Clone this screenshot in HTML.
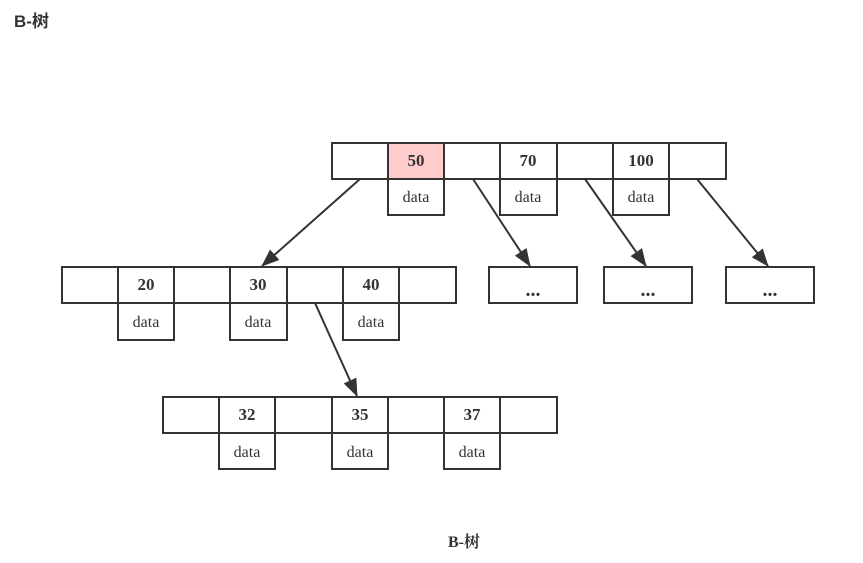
<!DOCTYPE html>
<html><head><meta charset="utf-8"><style>
body{margin:0;background:#fff;width:863px;height:558px;overflow:hidden}
</style></head><body>
<svg width="863" height="558" xmlns="http://www.w3.org/2000/svg">
<defs><marker id="a" markerWidth="18" markerHeight="14" refX="17" refY="7" orient="auto" markerUnits="userSpaceOnUse" viewBox="0 0 18 14"><path d="M0,0 L18,7 L0,14 z" fill="#333"/></marker>
</defs>
<text x="14" y="27" font-family="Liberation Sans, Noto Sans CJK SC, sans-serif" font-weight="bold" font-size="17" fill="#333">B-树</text>
<g stroke="#333" stroke-width="2" fill="none">
<rect x="388" y="143" width="56" height="36" fill="#ffcccc"/>
<rect x="332" y="143" width="394" height="36"/>
<path d="M388 143V179M444 143V179M500 143V179M557 143V179M613 143V179M669 143V179"/>
<rect x="388" y="179" width="56" height="36"/><rect x="500" y="179" width="57" height="36"/><rect x="613" y="179" width="56" height="36"/>
<rect x="62" y="267" width="394" height="36"/>
<path d="M118 267V303M174 267V303M230 267V303M287 267V303M343 267V303M399 267V303"/>
<rect x="118" y="303" width="56" height="37"/><rect x="230" y="303" width="57" height="37"/><rect x="343" y="303" width="56" height="37"/>
<rect x="489" y="267" width="88" height="36"/><rect x="604" y="267" width="88" height="36"/><rect x="726" y="267" width="88" height="36"/>
<rect x="163" y="397" width="394" height="36"/>
<path d="M219 397V433M275 397V433M332 397V433M388 397V433M444 397V433M500 397V433"/>
<rect x="219" y="433" width="56" height="36"/><rect x="332" y="433" width="56" height="36"/><rect x="444" y="433" width="56" height="36"/>
<g marker-end="url(#a)">
<line x1="360" y1="179" x2="262" y2="266"/>
<line x1="473" y1="179" x2="530" y2="266"/>
<line x1="585" y1="179" x2="646" y2="266"/>
<line x1="697" y1="179" x2="768" y2="266"/>
<line x1="315" y1="303" x2="357" y2="396"/>
</g></g>
<g font-family="Liberation Serif, serif" fill="#333" text-anchor="middle">
<g font-weight="bold" font-size="17">
<text x="416" y="166">50</text><text x="528" y="166">70</text><text x="641" y="166">100</text>
<text x="146" y="290">20</text><text x="258" y="290">30</text><text x="371" y="290">40</text>
<text x="533" y="296" font-size="20">...</text><text x="648" y="296" font-size="20">...</text><text x="770" y="296" font-size="20">...</text>
<text x="247" y="420">32</text><text x="360" y="420">35</text><text x="472" y="420">37</text>
</g>
<g font-size="16">
<text x="416" y="202">data</text><text x="528" y="202">data</text><text x="641" y="202">data</text>
<text x="146" y="327">data</text><text x="258" y="327">data</text><text x="371" y="327">data</text>
<text x="247" y="457">data</text><text x="360" y="457">data</text><text x="472" y="457">data</text>
</g></g>
<text x="464" y="547" text-anchor="middle" font-family="Liberation Serif, Noto Serif CJK SC, serif" font-weight="bold" font-size="16" fill="#333">B-树</text>
</svg>
</body></html>
